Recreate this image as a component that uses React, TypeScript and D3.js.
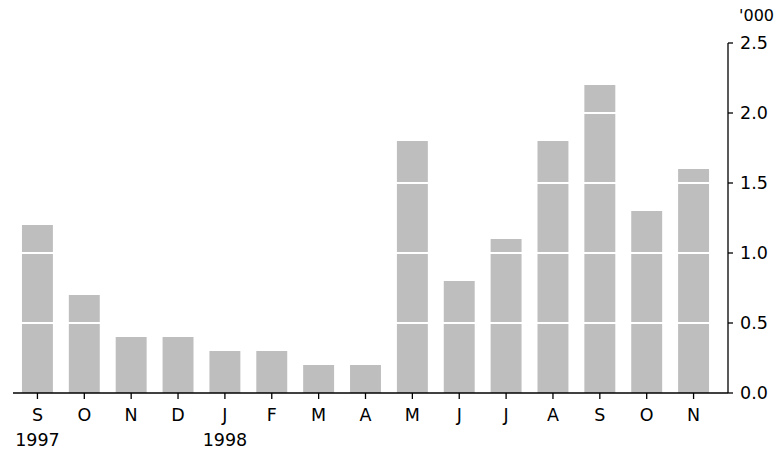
import React from "react";
import * as d3 from "d3";

const months = ["S","O","N","D","J","F","M","A","M","J","J","A","S","O","N"];
const values = [1.2,0.7,0.4,0.4,0.3,0.3,0.2,0.2,1.8,0.8,1.1,1.8,2.2,1.3,1.6];
const yTicks = [0,0.5,1,1.5,2,2.5];
const years = [{i:0,label:"1997"},{i:4,label:"1998"}];

export default function App() {
  const W = 776, H = 451;
  const x = d3.scaleBand<number>().domain(d3.range(months.length)).range([14, 717]).paddingInner(0.34).paddingOuter(0.17);
  const y = d3.scaleLinear().domain([0, 2.5]).range([393, 43]);
  const axisX = 728;
  const font = "'DejaVu Sans', sans-serif";
  const fs = 17.5;
  return (
    <svg width={W} height={H} style={{position:"absolute",left:0,top:0}} fontFamily={font}>
      {values.map((v,i)=>(
        <rect key={i} x={x(i)} y={y(v)} width={x.bandwidth()} height={y(0)-y(v)} fill="#bebebe"/>
      ))}
      {yTicks.filter(t=>t>0&&t<2.5).map(t=>(
        <line key={t} x1={14} x2={717} y1={y(t)} y2={y(t)} stroke="#fff" strokeWidth={2}/>
      ))}
      <line x1={13} x2={axisX} y1={y(0)} y2={y(0)} stroke="#000" strokeWidth={1.3}/>
      <line x1={axisX} x2={axisX} y1={y(2.5)} y2={y(0)} stroke="#000" strokeWidth={1.3}/>
      {yTicks.map(t=>(
        <g key={t}>
          <line x1={axisX} x2={axisX+5} y1={y(t)} y2={y(t)} stroke="#000" strokeWidth={1.3}/>
          <text x={740} y={y(t)} dy="0.36em" fontSize={fs}>{t.toFixed(1)}</text>
        </g>
      ))}
      <text x={774} y={y(2.5)-22} fontSize={16} textAnchor="end">'000</text>
      {months.map((m,i)=>{
        const cx = x(i)! + x.bandwidth()/2;
        return (
          <g key={i}>
            <line x1={cx} x2={cx} y1={y(0)} y2={y(0)+6} stroke="#000" strokeWidth={1.3}/>
            <text x={cx} y={421} textAnchor="middle" fontSize={fs}>{m}</text>
          </g>
        );
      })}
      {years.map(yr=>(
        <text key={yr.label} x={x(yr.i)!+x.bandwidth()/2} y={446} textAnchor="middle" fontSize={fs}>{yr.label}</text>
      ))}
    </svg>
  );
}
